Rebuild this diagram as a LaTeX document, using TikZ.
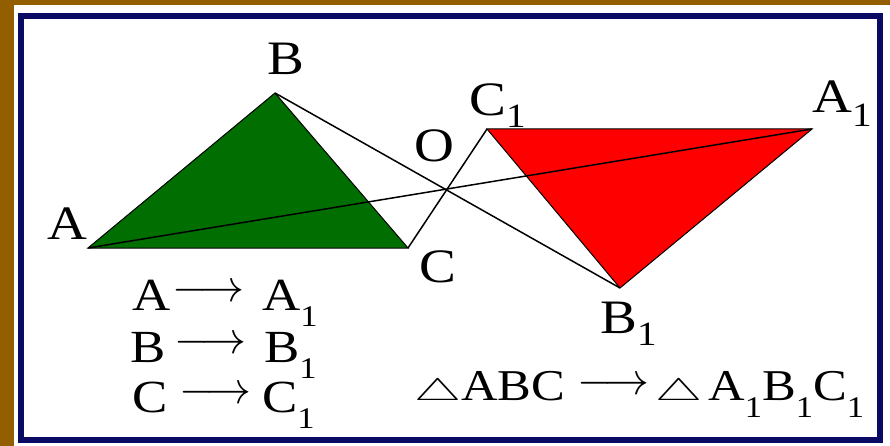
\documentclass[tikz,border=0pt]{standalone}
\usepackage{fontspec}
\usepackage{graphicx}
\setmainfont{Liberation Serif}
\definecolor{bgbrown}{RGB}{146,94,0}
\definecolor{framenavy}{RGB}{10,10,100}
\definecolor{trigreen}{RGB}{0,110,0}
\definecolor{trired}{RGB}{255,0,0}
\newcommand{\sone}[2]{\raisebox{-#2pt}{\fontsize{#1}{#1}\selectfont 1}}
\newcommand{\widetxt}[1]{\scalebox{1.15}[1]{#1}}
\newcommand{\tri}{\scalebox{5.3}[3.1]{\fontsize{10}{10}\selectfont$\triangle$}}
\newcommand{\larr}[1]{\raisebox{#1pt}{\scalebox{4.5}{\fontsize{10}{10}\selectfont$\longrightarrow$}}}
\begin{document}
\begin{tikzpicture}[x=1pt,y=-1pt,
  lbl/.style={anchor=base west, inner sep=0pt, font=\fontsize{48}{48}\selectfont},
  row/.style={anchor=base west, inner sep=0pt, font=\fontsize{46}{46}\selectfont},
  ray/.style={draw=black, line width=1.5pt},
  edge/.style={draw=black, line width=1pt, line join=miter}]
\fill[bgbrown] (0,0) rectangle (890,446);
\useasboundingbox (0,0) rectangle (890,446);
\fill[white] (14,5) rectangle (890,446);
\draw[framenavy, line width=6pt] (20.5,16.5) rectangle (880,440);
% vertices
\coordinate (A) at (88,248);
\coordinate (B) at (275,93);
\coordinate (C) at (408,248);
\coordinate (A1) at (812,129);
\coordinate (B1) at (620,288);
\coordinate (C1) at (487,129);
% triangles
\path[edge, fill=trigreen] (A) -- (B) -- (C) -- cycle;
\path[edge, fill=trired] (C1) -- (A1) -- (B1) -- cycle;
% rays through O
\draw[ray] (A) -- (A1);
\draw[ray] (B) -- (B1);
\draw[ray] (C) -- (C1);
% vertex labels
\node[lbl] (lB) at (267,75) {\widetxt{B}};
\node[lbl] (lA) at (47,240) {\widetxt{A}};
\node[lbl] (lC) at (419,282) {\widetxt{C}};
\node[lbl] (lO) at (414,162) {\widetxt{O}};
\node[lbl] (lC1) at (469,116) {\widetxt{C\sone{34}{12}}};
\node[lbl] (lA1) at (812,113) {\widetxt{A\sone{34}{14}}};
\node[lbl] (lB1) at (600,333) {\widetxt{B\sone{34}{12}}};
% correspondence rows
\node[row] (rA) at (132,310) {\widetxt{A}};
\node[row] (aA) at (172,310) {\larr{9}};
\node[row] (tA) at (262,310) {\widetxt{A\sone{30}{16}}};
\node[row] (rB) at (130,362) {\widetxt{B}};
\node[row] (aB) at (174,362) {\larr{9}};
\node[row] (tB) at (264,362) {\widetxt{B\sone{30}{16}}};
\node[row] (rC) at (132,412) {\widetxt{C}};
\node[row] (aC) at (179,412) {\larr{9}};
\node[row] (tC) at (262,412) {\widetxt{C\sone{30}{16}}};
% triangle mapping
\node[row] (t1) at (414,400) {\tri};
\node[row, font=\fontsize{44}{44}\selectfont] (abc) at (461,400) {\widetxt{ABC}};
\node[row] (am) at (577,400) {\larr{6}};
\node[row] (t2) at (655,400) {\tri};
\node[row, font=\fontsize{44}{44}\selectfont] (a1b1c1) at (708,400)
  {\widetxt{A\sone{30}{17}B\sone{30}{17}C\sone{30}{17}}};
\end{tikzpicture}
\end{document}
